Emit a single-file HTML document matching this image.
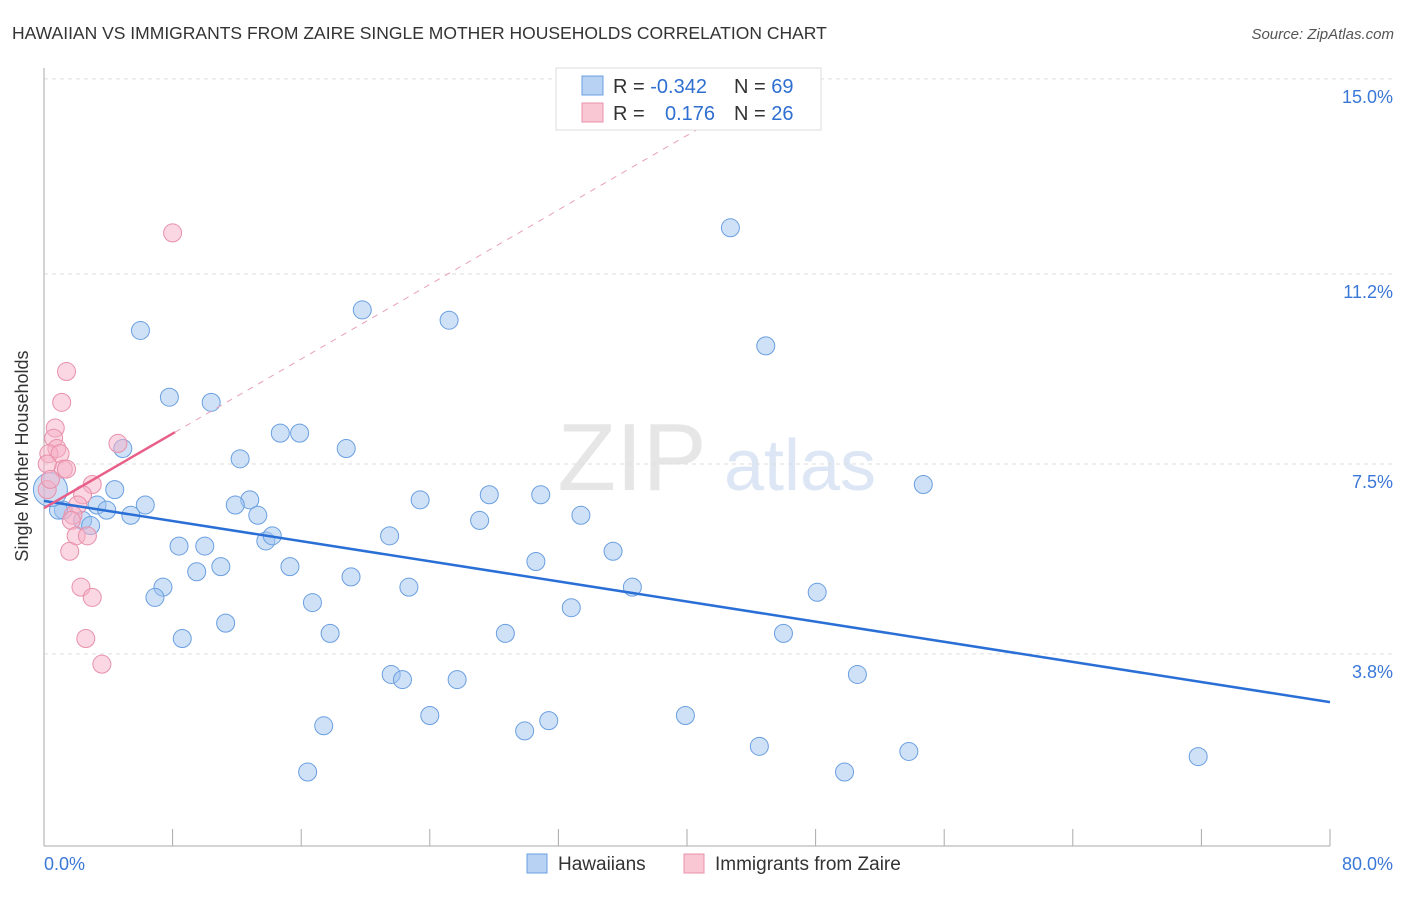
<!DOCTYPE html>
<html><head><meta charset="utf-8"><style>
body{margin:0;background:#fff;font-family:"Liberation Sans",sans-serif;}
svg text{font-family:"Liberation Sans",sans-serif;}
</style></head><body>
<svg id="chart" width="1406" height="892">
<text x="12" y="39" font-size="17.5" fill="#333">HAWAIIAN VS IMMIGRANTS FROM ZAIRE SINGLE MOTHER HOUSEHOLDS CORRELATION CHART</text>
<text x="1394" y="39" font-size="15" fill="#555" font-style="italic" text-anchor="end">Source: ZipAtlas.com</text>
<text x="632" y="490" font-size="96" fill="#e6e6e6" font-family="Liberation Serif" text-anchor="middle">ZIP</text>
<text x="800" y="490" font-size="72" fill="#dce6f4" text-anchor="middle">atlas</text>
<g id="grid"></g><g id="axes"></g><g id="pts"></g><g id="lines"></g>
<text x="28" y="456" font-size="18" fill="#333" text-anchor="middle" transform="rotate(-90 28 456)">Single Mother Households</text>
<g>
<rect x="556" y="68" width="265" height="62" fill="#fff" stroke="#ddd"/>
<rect x="582" y="76" width="21" height="19" fill="#b8d2f4" stroke="#6a9fe0"/>
<rect x="582" y="103" width="21" height="19" fill="#f9c6d4" stroke="#e890aa"/>
<text x="613" y="93" font-size="20" fill="#333">R = <tspan fill="#2f6fd0">-0.342</tspan></text>
<text x="734" y="93" font-size="20" fill="#333">N = <tspan fill="#2f6fd0">69</tspan></text>
<text x="613" y="120" font-size="20" fill="#333">R = </text>
<text x="665" y="120" font-size="20" fill="#2f6fd0">0.176</text>
<text x="734" y="120" font-size="20" fill="#333">N = <tspan fill="#2f6fd0">26</tspan></text>
</g>
<g>
<rect x="527" y="854" width="20" height="19" fill="#b8d2f4" stroke="#6a9fe0"/>
<text x="558" y="870" font-size="19" fill="#333">Hawaiians</text>
<rect x="684" y="854" width="20" height="19" fill="#f9c6d4" stroke="#e890aa"/>
<text x="715" y="870" font-size="19" fill="#333">Immigrants from Zaire</text>
</g>
</svg>
<script>
const blueX=[42.7,19.8,25.2,6.0,44.9,7.8,10.4,4.9,14.7,15.9,18.8,12.2,54.7,4.4,27.7,30.9,12.8,11.9,23.4,3.3,6.3,1.2,3.9,5.4,13.3,33.4,27.1,2.4,2.9,0.9,13.8,14.2,21.5,8.4,10.0,35.4,30.6,15.3,11.0,9.5,19.1,36.6,7.4,22.7,6.9,48.1,16.7,32.8,11.3,17.8,28.7,46.0,8.6,50.6,21.6,22.3,25.7,24.0,39.9,31.4,17.4,29.9,44.5,53.8,71.8,16.4,49.8,0.4];
const blueY=[12.1,10.5,10.3,10.1,9.8,8.8,8.7,7.8,8.1,8.1,7.8,7.6,7.1,7.0,6.9,6.9,6.8,6.7,6.8,6.7,6.7,6.6,6.6,6.5,6.5,6.5,6.4,6.4,6.3,6.6,6.0,6.1,6.1,5.9,5.9,5.8,5.6,5.5,5.5,5.4,5.3,5.1,5.1,5.1,4.9,5.0,4.8,4.7,4.4,4.2,4.2,4.2,4.1,3.4,3.4,3.3,3.3,2.6,2.6,2.5,2.4,2.3,2.0,1.9,1.8,1.5,1.5,7.0];
const pinkX=[8.0,1.4,1.1,0.7,0.6,0.8,4.6,0.3,1.0,1.2,1.4,0.2,3.0,2.4,2.1,1.8,1.7,2.0,2.7,1.6,2.3,3.0,2.6,3.6,0.2,0.4];
const pinkY=[12.0,9.3,8.7,8.2,8.0,7.8,7.9,7.7,7.7,7.4,7.4,7.5,7.1,6.9,6.7,6.5,6.4,6.1,6.1,5.8,5.1,4.9,4.1,3.6,7.0,7.2];
const yTicks=[3.8,7.5,11.2,15.0];
const yTickLabels=["3.8%","7.5%","11.2%","15.0%"];
const xTickLabels=["0.0%","80.0%"];
const blueTrend=[6.78,2.86];
const pinkTrend=[6.64,0.1815];
const NS="http://www.w3.org/2000/svg";
const sx=v=>44+v*16.075, sy=v=>849-v*51.34;
function mk(tag,attrs,parent){const e=document.createElementNS(NS,tag);for(const k in attrs)e.setAttribute(k,attrs[k]);document.getElementById(parent).appendChild(e);return e;}
yTicks.forEach((t,i)=>{
 const g=mk('line',{x1:44,x2:1394,y1:sy(t),y2:sy(t),stroke:'#ddd','stroke-dasharray':'4,4'},'grid');
 
 
 const tx=mk('text',{x:1393,y:sy(t)+24,'font-size':18,fill:'#3a78d8','text-anchor':'end'},'grid');tx.textContent=yTickLabels[i];
 
 
});
const ax=mk('line',{x1:44,x2:44,y1:68,y2:846,stroke:'#aaa'},'axes');


const bx=mk('line',{x1:44,x2:1330,y1:846,y2:846,stroke:'#aaa'},'axes');


for(let i=0;i<=10;i++){const t=mk('line',{x1:sx(i*8),x2:sx(i*8),y1:829,y2:846,stroke:'#aaa'},'axes');
 
 }
const xl0=mk('text',{x:44,y:870,'font-size':18,fill:'#3a78d8'},'axes');xl0.textContent=xTickLabels[0];


const xl1=mk('text',{x:1393,y:870,'font-size':18,fill:'#3a78d8','text-anchor':'end'},'axes');xl1.textContent=xTickLabels[1];


blueX.forEach((x,i)=>{const r=(i===blueX.length-1)?17:9;const c=mk('circle',{cx:sx(x),cy:sy(blueY[i]),r:r,fill:'rgba(160,195,240,0.5)',stroke:'#6a9fe0','stroke-width':1},'pts');
 
 });
pinkX.forEach((x,i)=>{const c=mk('circle',{cx:sx(x),cy:sy(pinkY[i]),r:9,fill:'rgba(246,176,198,0.5)',stroke:'#e890aa','stroke-width':1},'pts');
 
 });
const bl=mk('line',{x1:sx(0),y1:sy(blueTrend[0]),x2:sx(80),y2:sy(blueTrend[1]),stroke:'#2a6fd6','stroke-width':2.5},'lines');


const pe=8.15, pd=(15.0-pinkTrend[0])/pinkTrend[1];
const pl=mk('line',{x1:sx(0),y1:sy(pinkTrend[0]),x2:sx(pe),y2:sy(pinkTrend[0]+pinkTrend[1]*pe),stroke:'#e8608a','stroke-width':2.5},'lines');


const pdl=mk('line',{x1:sx(pe),y1:sy(pinkTrend[0]+pinkTrend[1]*pe),x2:sx(pd),y2:sy(15.0),stroke:'#e8a0b8','stroke-width':1,'stroke-dasharray':'6,6'},'lines');


</script>
</body></html>
